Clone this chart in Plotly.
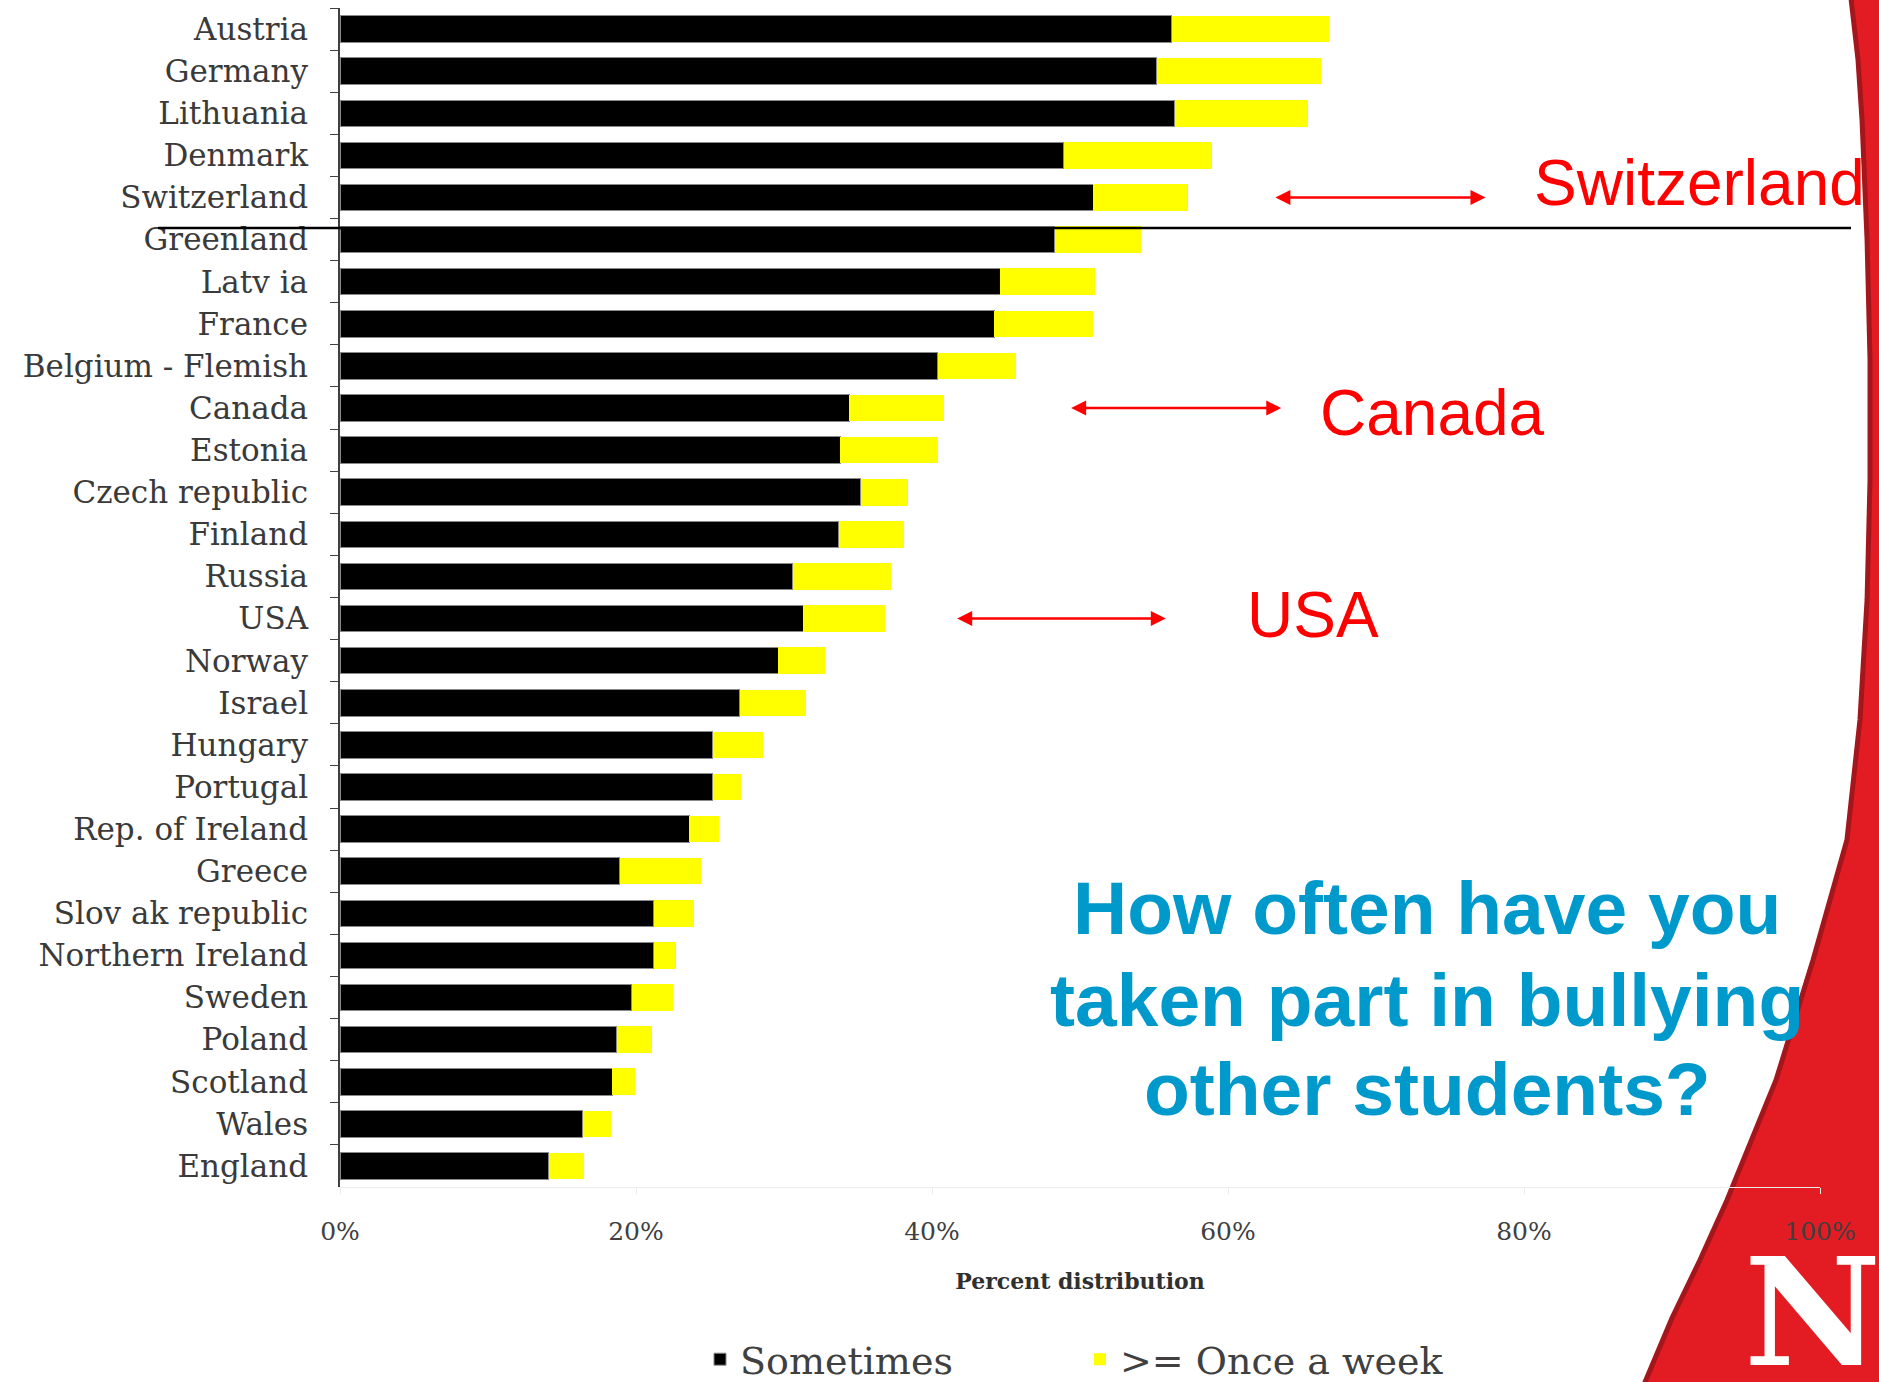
import plotly.graph_objects as go

countries = ["Austria", "Germany", "Lithuania", "Denmark", "Switzerland", "Greenland",
             "Latv ia", "France", "Belgium - Flemish", "Canada", "Estonia", "Czech republic",
             "Finland", "Russia", "USA", "Norway", "Israel", "Hungary", "Portugal",
             "Rep. of Ireland", "Greece", "Slov ak republic", "Northern Ireland", "Sweden",
             "Poland", "Scotland", "Wales", "England"]
sometimes = [56.2, 55.2, 56.4, 48.9, 50.9, 48.3, 44.6, 44.2, 40.4, 34.4, 33.8, 35.2,
             33.7, 30.6, 31.3, 29.6, 27.0, 25.2, 25.2, 23.6, 18.9, 21.2, 21.2, 19.7,
             18.7, 18.4, 16.4, 14.1]
weekly = [10.6, 11.1, 9.0, 10.0, 6.4, 5.8, 6.4, 6.7, 5.3, 6.4, 6.6, 3.2,
          4.4, 6.6, 5.5, 3.2, 4.5, 3.4, 1.9, 2.0, 5.5, 2.7, 1.5, 2.8,
          2.4, 1.5, 1.9, 2.4]
x_ticks = [0, 20, 40, 60, 80, 100]
x_tick_labels = ["0%", "20%", "40%", "60%", "80%", "100%"]

W, H = 1879, 1382
L, R, T, B = 340, 1820, 8, 1187


def px(x):
    return (x - L) / (R - L)


def py(y):
    return 1 - (y - T) / (B - T)


fig = go.Figure()
fig.add_bar(y=countries, x=sometimes, orientation="h", name="Sometimes",
            marker=dict(color="#000000", line=dict(color="#8a8a8a", width=1)))
fig.add_bar(y=countries, x=weekly, orientation="h", name=">= Once a week",
            marker=dict(color="#FFFF00", line=dict(width=0)))

# red template swoosh on the right
edge = [(1850, -10), (1858, 60), (1862, 120), (1867, 240), (1870, 360), (1870, 480),
        (1867, 600), (1860, 720), (1847, 840), (1813, 960), (1776, 1080), (1727, 1200),
        (1700, 1260), (1672, 1318), (1645, 1382), (1630, 1420)]
path = "M " + " L ".join(f"{px(a):.4f},{py(b):.4f}" for a, b in edge)
path += f" L {px(1900):.4f},{py(1420):.4f} L {px(1900):.4f},{py(-10):.4f} Z"

shapes = [
    dict(type="path", path=path, xref="paper", yref="paper", layer="below",
         fillcolor="#E31B23", line=dict(color="#A3161C", width=5)),
    dict(type="line", xref="paper", yref="paper", x0=px(158), x1=px(1851),
         y0=py(228), y1=py(228), line=dict(color="#000000", width=2.5), layer="above"),
]

annotations = []
arrows = [("Switzerland", 63.1, 77.4), ("Canada", 49.3, 63.6), ("USA", 41.6, 55.8)]
for cat, x0, x1 in arrows:
    annotations.append(dict(x=x1, y=cat, xref="x", yref="y", ax=x0, ay=0,
                            axref="x", ayref="pixel", text="", showarrow=True,
                            arrowhead=2, arrowside="end+start", arrowsize=1.2,
                            arrowwidth=2.5, arrowcolor="#FF0000"))
red_labels = [("Switzerland", 1532, 183), ("Canada", 1318, 413), ("USA", 1245, 615)]
for txt, xx, yy in red_labels:
    annotations.append(dict(x=px(xx), y=py(yy), xref="paper", yref="paper",
                            text=txt, showarrow=False, xanchor="left", yanchor="middle",
                            font=dict(family="Liberation Sans, Arial", size=64, color="#FF0000")))
title_lines = [("How often have you", 908), ("taken part in bullying", 1000),
               ("other students?", 1089)]
for txt, yy in title_lines:
    annotations.append(dict(x=px(1427), y=py(yy), xref="paper", yref="paper",
                            text=txt, showarrow=False, xanchor="center", yanchor="middle",
                            font=dict(family="Liberation Sans, Arial", size=75,
                                      color="#0099CC", weight="bold")))
annotations.append(dict(x=px(1742), y=py(1312), xref="paper", yref="paper", text="N",
                        showarrow=False, xanchor="left", yanchor="middle",
                        font=dict(family="DejaVu Serif", size=150, color="#FFFFFF",
                                  weight="bold")))

fig.update_layout(
    width=W, height=H,
    margin=dict(l=L, r=W - R, t=T, b=H - B, pad=0, autoexpand=False),
    barmode="stack", bargap=0.37,
    paper_bgcolor="#FFFFFF", plot_bgcolor="rgba(0,0,0,0)",
    showlegend=True,
    legend=dict(orientation="h", x=px(700), y=py(1391), xanchor="left", yanchor="bottom",
                font=dict(family="DejaVu Serif", size=38, color="#404040"),
                bgcolor="rgba(0,0,0,0)", entrywidth=335, entrywidthmode="pixels",
                traceorder="normal"),
    shapes=shapes, annotations=annotations,
)
fig.update_yaxes(type="category", categoryorder="array", categoryarray=countries,
                 autorange="reversed", tickson="boundaries", ticks="outside", ticklen=8,
                 tickcolor="#404040", showline=True, linecolor="#404040", linewidth=1.5,
                 showgrid=False, ticklabelstandoff=24, automargin=False,
                 tickfont=dict(family="DejaVu Serif", size=31, color="#3a3a3a"))
fig.update_xaxes(range=[0, 100], tickvals=x_ticks, ticktext=x_tick_labels, showgrid=False,
                 zeroline=False, showline=True, linecolor="#ececec", linewidth=1,
                 ticks="outside", ticklen=6, tickcolor="#ececec", ticklabelstandoff=16,
                 automargin=False,
                 tickfont=dict(family="DejaVu Serif", size=25, color="#404040"),
                 title=dict(text="Percent distribution", standoff=28,
                            font=dict(family="DejaVu Serif", size=22, color="#303030",
                                      weight="bold")))

fig.write_html("out.html", config={"displayModeBar": False},
               post_script="document.body.style.margin='0px';"
                           "document.body.style.overflow='hidden';")
